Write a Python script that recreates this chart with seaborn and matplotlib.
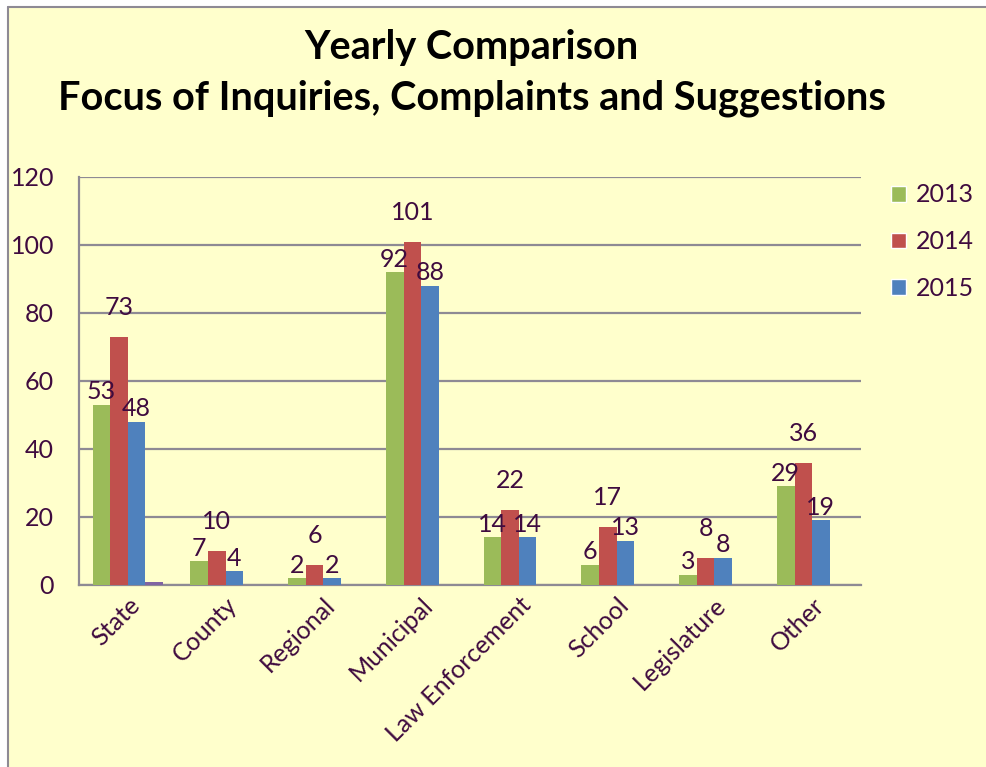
import pandas as pd
import matplotlib.pyplot as plt
import seaborn as sns
from matplotlib.patches import Rectangle, Patch
from matplotlib.lines import Line2D

categories = ["State", "County", "Regional", "Municipal", "Law Enforcement",
              "School", "Legislature", "Other"]
series_names = ["2013", "2014", "2015", "Series4"]
vals_2013 = [53, 7, 2, 92, 14, 6, 3, 29]
vals_2014 = [73, 10, 6, 101, 22, 17, 8, 36]
vals_2015 = [48, 4, 2, 88, 14, 13, 8, 19]
vals_s4 = [1, 0, 0, 0, 0, 0, 0, 0]
y_ticks = [0, 20, 40, 60, 80, 100, 120]

colors = ["#9BBB59", "#C0504D", "#4F81BD", "#8064A2"]
txt = "#3F0B3F"
bg = "#FFFFCC"
grid = "#8E8A94"

sns.set_theme(style="white")
plt.rcParams["font.family"] = ["Lato", "DejaVu Sans"]

rows = []
for name, vals in zip(series_names, [vals_2013, vals_2014, vals_2015, vals_s4]):
    for c, v in zip(categories, vals):
        rows.append({"cat": c, "year": name, "value": v})
df = pd.DataFrame(rows)

fig = plt.figure(figsize=(9.87, 7.67), dpi=100, facecolor="white")
# chart area, border only shows on left and top
x0, y1 = 8 / 987, 1 - 7 / 767
fig.add_artist(Rectangle((x0, 0), 1 - x0, y1, transform=fig.transFigure,
                         facecolor=bg, edgecolor="none", zorder=0))
fig.add_artist(Line2D([x0, x0], [0, y1], transform=fig.transFigure, color=grid, linewidth=1.5))
fig.add_artist(Line2D([x0, 1], [y1, y1], transform=fig.transFigure, color=grid, linewidth=1.5))

ax = fig.add_axes([79 / 987, 1 - 585 / 767, (861 - 79) / 987, (585 - 177) / 767])
ax.patch.set_alpha(0)

sns.barplot(data=df, x="cat", y="value", hue="year", palette=colors, width=0.72,
            saturation=1, ax=ax, legend=False, zorder=3, edgecolor="none", linewidth=0)

ax.set_ylim(0, 120)
ax.set_yticks(y_ticks)
ax.set_xlim(-0.5, len(categories) - 0.5)
ax.yaxis.grid(True, color=grid, linewidth=1.6, zorder=0)
ax.set_axisbelow(True)
for s in ["top", "right"]:
    ax.spines[s].set_visible(False)
for s in ["left", "bottom"]:
    ax.spines[s].set_color(grid)
    ax.spines[s].set_linewidth(1.6)
ax.tick_params(axis="both", length=0, labelcolor=txt, labelsize=18)
ax.tick_params(axis="y", pad=18)
ax.tick_params(axis="x", pad=6)
plt.setp(ax.get_xticklabels(), rotation=45, ha="right", rotation_mode="anchor")
ax.set_xlabel("")
ax.set_ylabel("")

pads = [1, 13, 1]
for cont, p in zip(ax.containers[:3], pads):
    ax.bar_label(cont, padding=p, fontsize=18, color=txt)

handles = [Patch(facecolor=colors[i], label=series_names[i]) for i in range(3)]
fig.legend(handles=handles, loc="upper left", bbox_to_anchor=(868 / 987, 1 - 161 / 767),
           frameon=False, fontsize=18, handlelength=0.6, handleheight=0.6,
           handletextpad=0.4, labelspacing=0.95, labelcolor=txt)

fig.text(0.478, 1 - 47 / 767, "Yearly Comparison", ha="center", va="center",
         fontsize=28.5, fontweight="bold", color="black")
fig.text(0.478, 1 - 98 / 767, "Focus of Inquiries, Complaints and Suggestions", ha="center",
         va="center", fontsize=28.5, fontweight="bold", color="black")

fig.savefig("out.png", dpi=100, facecolor="white")
